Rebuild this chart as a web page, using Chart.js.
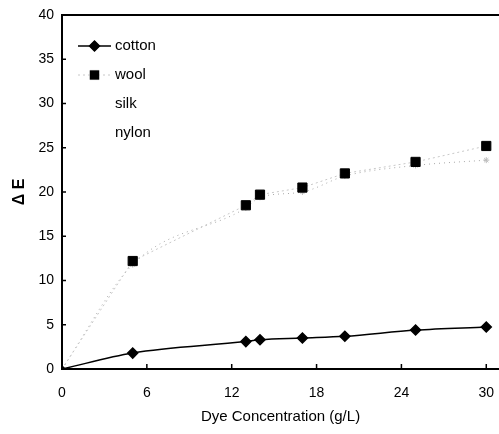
<html>
<head>
  <title>Dye Concentration</title>
  <script src="https://cdn.jsdelivr.net/npm/chart.js"></script>
  <style>
    body { margin: 0; background: #fff; }
    #wrap { width: 499px; height: 434px; }
  </style>
</head>
<body>
  <div id="wrap"><canvas id="deChart"></canvas></div>

  <script>
    // values
    const conc = [0, 5, 13, 14, 17, 20, 25, 30];
    const cotton = [0, 1.8, 3.1, 3.3, 3.5, 3.7, 4.4, 4.75];
    const wool = [0, 12.2, 18.5, 19.7, 20.5, 22.1, 23.4, 25.2];
    const silk = [0, 11.8, 18.2, 19.4, 20.0, 21.8, 23.0, 23.6];
    const nylon = [];
    const seriesNames = ['cotton', 'wool', 'silk', 'nylon'];
    const xTicks = [0, 6, 12, 18, 24, 30];

    function toPoints(arr) {
      return arr.map((v, i) => ({ x: conc[i], y: v }));
    }

    const font = 'Liberation Sans, Arial, sans-serif';

    // the plot runs to the right edge, like the cropped original
    function noSidePadding(s) {
      s.paddingRight = 0;
      s.paddingLeft = 0;
    }

    // top border and inward tick marks
    const frame = {
      id: 'frame',
      afterDraw(chart) {
        const { ctx, chartArea: a, scales: { x, y } } = chart;
        ctx.save();
        ctx.strokeStyle = '#000';
        ctx.lineWidth = 2;
        ctx.beginPath();
        ctx.moveTo(a.left, a.top);
        ctx.lineTo(a.right, a.top);
        ctx.stroke();
        ctx.lineWidth = 1.5;
        ctx.beginPath();
        x.ticks.forEach(t => {
          const px = x.getPixelForValue(t.value);
          ctx.moveTo(px, a.bottom);
          ctx.lineTo(px, a.bottom - 5);
        });
        y.ticks.forEach(t => {
          const py = y.getPixelForValue(t.value);
          ctx.moveTo(a.left, py);
          ctx.lineTo(a.left + 4, py);
        });
        ctx.stroke();
        ctx.restore();
      }
    };

    // legend inside the plot, top-left
    const insideLegend = {
      id: 'insideLegend',
      afterDraw(chart) {
        const { ctx, chartArea: a } = chart;
        ctx.save();
        ctx.font = '15px ' + font;
        ctx.textBaseline = 'middle';
        chart.data.datasets.forEach((ds, i) => {
          const yy = a.top + 31 + i * 29;
          const x0 = a.left + 16, x1 = a.left + 49, xm = (x0 + x1) / 2;
          if (ds.legendLine) {
            ctx.strokeStyle = ds.borderColor;
            ctx.lineWidth = ds.borderWidth;
            ctx.setLineDash(ds.borderDash || []);
            ctx.beginPath();
            ctx.moveTo(x0, yy);
            ctx.lineTo(x1, yy);
            ctx.stroke();
            ctx.setLineDash([]);
            Chart.helpers.drawPoint(ctx, {
              pointStyle: ds.pointStyle,
              radius: ds.legendRadius,
              borderWidth: 1
            }, xm, yy);
            ctx.fillStyle = ds.pointBackgroundColor;
            ctx.fill();
          }
          ctx.fillStyle = '#000';
          ctx.fillText(ds.label, a.left + 53, yy);
        });
        ctx.restore();
      }
    };

    new Chart(document.getElementById('deChart'), {
      type: 'scatter',
      data: {
        datasets: [
          {
            label: seriesNames[0],
            data: toPoints(cotton),
            showLine: true,
            cubicInterpolationMode: 'monotone',
            borderColor: '#000',
            borderWidth: 1.5,
            pointStyle: 'rectRot',
            pointRadius: [3, 5, 5, 5, 5, 5, 5, 5],
            pointBackgroundColor: '#000',
            pointBorderColor: '#000',
            legendLine: true,
            legendRadius: 5
          },
          {
            label: seriesNames[1],
            data: toPoints(wool),
            showLine: true,
            borderColor: '#c8c8c8',
            borderWidth: 1,
            borderDash: [2, 3],
            pointStyle: 'rect',
            pointRadius: [0, 6.5, 6.5, 6.5, 6.5, 6.5, 6.5, 6.5],
            pointBackgroundColor: '#000',
            pointBorderColor: '#000',
            legendLine: true,
            legendRadius: 6.5
          },
          {
            label: seriesNames[2],
            data: toPoints(silk),
            showLine: true,
            cubicInterpolationMode: 'monotone',
            borderColor: '#a8a8a8',
            borderWidth: 1,
            borderDash: [1, 4],
            pointStyle: 'star',
            pointRadius: [0, 3, 3, 3, 3, 3, 3, 3],
            pointBackgroundColor: '#bbb',
            pointBorderColor: '#bbb',
            legendLine: false
          },
          {
            label: seriesNames[3],
            data: toPoints(nylon),
            showLine: true,
            borderColor: '#ddd',
            pointRadius: 0,
            legendLine: false
          }
        ]
      },
      options: {
        responsive: true,
        maintainAspectRatio: false,
        animation: false,
        layout: { autoPadding: false, padding: { top: 15, right: 0, left: 0, bottom: 0 } },
        plugins: {
          legend: { display: false },
          tooltip: { enabled: false }
        },
        scales: {
          x: {
            type: 'linear',
            min: 0,
            max: 30.9,
            afterFit: s => { s.height = 65; noSidePadding(s); },
            afterBuildTicks: s => { s.ticks = xTicks.map(v => ({ value: v })); },
            grid: { display: false, drawTicks: false },
            border: { display: true, color: '#000', width: 2 },
            ticks: { color: '#000', padding: 16, font: { family: font, size: 14 } },
            title: {
              display: true,
              text: 'Dye Concentration (g/L)',
              color: '#000',
              padding: { top: 0, bottom: 8 },
              font: { family: font, size: 15 }
            }
          },
          y: {
            min: 0,
            max: 40,
            afterFit: s => { s.width = 62; s.paddingTop = 0; s.paddingBottom = 0; },
            grid: { display: false, drawTicks: false },
            border: { display: true, color: '#000', width: 2 },
            ticks: { stepSize: 5, color: '#000', padding: 8, font: { family: font, size: 14 } },
            title: {
              display: true,
              text: 'Δ E',
              color: '#000',
              padding: { top: 10, bottom: 0 },
              font: { family: font, size: 16, weight: 'bold' }
            }
          }
        }
      },
      plugins: [frame, insideLegend]
    });
  </script>
</body>
</html>
